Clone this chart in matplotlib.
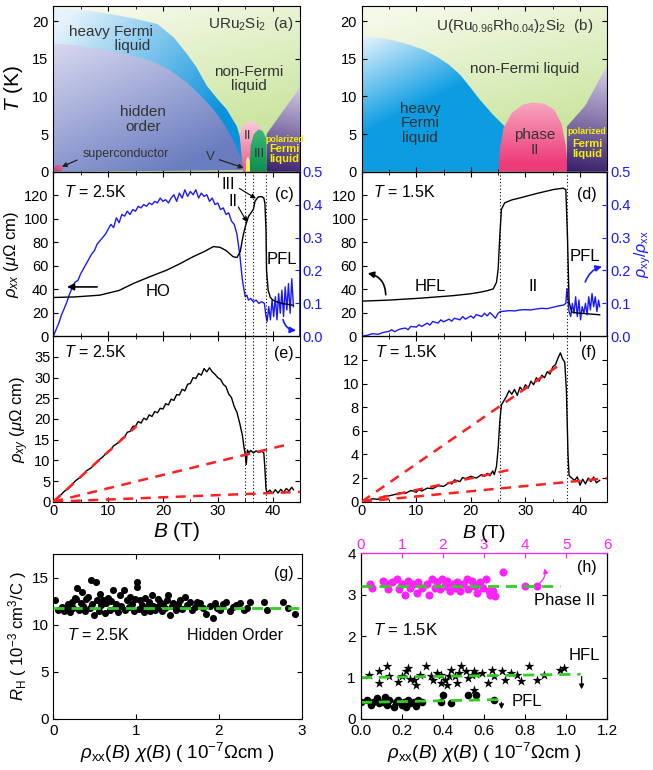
import numpy as np
import matplotlib
matplotlib.use('Agg')
import matplotlib.pyplot as plt
from matplotlib.patches import Polygon
from matplotlib.colors import to_rgb
from matplotlib.ticker import MultipleLocator

plt.rcParams['font.family'] = ['Liberation Sans', 'DejaVu Sans']
plt.rcParams['mathtext.fontset'] = 'custom'
plt.rcParams['mathtext.rm'] = 'Liberation Sans'
plt.rcParams['mathtext.it'] = 'Liberation Sans:italic'
plt.rcParams['mathtext.bf'] = 'Liberation Sans:bold'
plt.rcParams['xtick.direction'] = 'in'
plt.rcParams['ytick.direction'] = 'in'
plt.rcParams['xtick.labelsize'] = 10.5
plt.rcParams['ytick.labelsize'] = 10.5

# ---------------- phase diagram (a) URu2Si2 ----------------
a_hfl_B = [0, 5, 10, 15, 19, 22, 24.3, 26, 28, 30, 31.6, 33.5, 34.5, 35.3]
a_hfl_T = [21.7, 21.5, 21.0, 20.3, 19.6, 17.8, 15.7, 14.0, 11.4, 9.6, 8.3, 6.0, 3.5, 0.3]
a_ho_B = [0, 4, 8.5, 13, 17.6, 21, 24.3, 27, 29.2, 31, 32.8, 34, 35]
a_ho_T = [17.0, 16.8, 16.3, 15.6, 14.8, 13.6, 11.9, 10.0, 8.3, 6.5, 4.2, 2.2, 0.2]
a_II_B = [34.6, 34.0, 34.5, 35.6, 36.8, 37.8, 38.4, 38.6]
a_II_T = [0, 4.8, 6.1, 6.7, 6.6, 5.9, 4.8, 0]
a_III_B = [35.8, 36.0, 36.6, 37.4, 38.2, 38.8, 39.0]
a_III_T = [0, 3.5, 5.0, 5.6, 5.4, 4.5, 0]
a_V_B = [35.1, 35.2, 35.5, 35.8, 35.9]
a_V_T = [0, 1.6, 2.0, 1.6, 0]
a_pfl_B = [38.9, 38.9, 45, 45]
a_pfl_T = [0, 5.0, 11.2, 0]
a_sc_B = [0, 0.5, 1.3, 1.9, 1.5, 0.6, 0]
a_sc_T = [0.3, 0.9, 0.9, 0.5, 0.1, 0.0, 0.3]

# ---------------- phase diagram (b) U(Ru0.96Rh0.04)2Si2 ----------------
b_hfl_B = [0, 4, 7.6, 11, 13.7, 16, 18, 20, 21.6, 24, 26.5]
b_hfl_T = [18, 17.7, 17.1, 16.3, 15.3, 14.2, 12.9, 11.1, 9.6, 7.6, 5.8]
b_II_B = [25.1, 25.3, 26.0, 27.5, 29.5, 31.4, 33.5, 35.3, 36.6, 37.4, 37.8]
b_II_T = [0, 3.0, 5.8, 7.8, 8.9, 9.2, 9.0, 8.2, 6.4, 3.5, 0]
b_pfl_B = [37.6, 37.6, 41, 45, 45]
b_pfl_T = [0, 6.0, 8.8, 14.2, 0]

# ---------------- (c) rho_xx and rho_xy/rho_xx, T=2.5K ----------------
c_rxx_B = [0, 4, 8.5, 12, 14.6, 17.5, 20.7, 23, 25.5, 27.5, 29.2, 30.4, 31.5, 32.8, 33.5, 34.1,
           34.6, 35.0, 35.6, 36.2, 36.5, 36.8, 37.4, 38.0, 38.4, 38.6, 38.8, 38.9, 39.2, 39.6,
           40.1, 41, 42, 43, 43.8]
c_rxx = [33, 33.5, 35, 39, 44.9, 50.5, 56.3, 61.5, 67.7, 72, 76.3, 75.7, 73, 67.7, 67, 72,
         85, 93, 102, 106, 108, 115, 118.6, 118.8, 117.7, 113, 90, 56, 39, 33,
         30.6, 29, 27.7, 27, 26.3]
c_rat_B = [0, 0.5, 1, 1.5, 2, 2.5, 3, 3.5, 4, 4.5, 5, 5.5, 6, 6.5, 7, 7.5, 8, 8.5, 9, 9.5,
           10, 10.5, 11, 11.5, 12, 12.5, 13, 13.5, 14, 14.5, 15, 15.5, 16, 16.5, 17, 17.5,
           18, 18.5, 19, 19.5, 20, 20.5, 21, 21.5, 22, 22.5, 23, 23.5, 24, 24.5, 25, 25.5,
           26, 26.5, 27, 27.5, 28, 28.5, 29, 29.5, 30, 30.5, 31, 31.5, 32, 32.5, 33, 33.5,
           34, 34.5, 35, 35.3, 35.6, 36, 36.5, 37, 37.5, 38, 38.5, 38.8, 39, 39.3, 39.6,
           39.9, 40.2, 40.5, 40.8, 41.1, 41.4, 41.7, 42, 42.3, 42.6, 42.9, 43.2, 43.5, 43.8]
c_rat = [0.0, 0.02, 0.04, 0.065, 0.085, 0.105, 0.13, 0.15, 0.165, 0.17, 0.19, 0.205, 0.22,
         0.235, 0.25, 0.26, 0.28, 0.29, 0.30, 0.31, 0.325, 0.34, 0.33, 0.36, 0.345, 0.37,
         0.365, 0.38, 0.37, 0.385, 0.38, 0.395, 0.39, 0.40, 0.395, 0.405, 0.40, 0.41, 0.405,
         0.42, 0.41, 0.415, 0.405, 0.42, 0.43, 0.41, 0.435, 0.42, 0.445, 0.425, 0.44, 0.43,
         0.445, 0.42, 0.435, 0.425, 0.43, 0.41, 0.42, 0.40, 0.405, 0.385, 0.39, 0.37, 0.375,
         0.35, 0.34, 0.31, 0.25, 0.17, 0.12, 0.125, 0.11, 0.115, 0.105, 0.11, 0.10, 0.105,
         0.10, 0.06, 0.045, 0.09, 0.05, 0.11, 0.06, 0.12, 0.05, 0.13, 0.07, 0.14, 0.06, 0.15,
         0.08, 0.16, 0.07, 0.175, 0.09]

# ---------------- (d) rho_xx and rho_xy/rho_xx, T=1.5K ----------------
d_rxx_B = [0, 5, 10.7, 16.8, 20, 21.7, 23, 24.1, 24.7, 25.0, 25.3, 25.6, 26.2, 27.5, 29, 32,
           35.1, 36.9, 37.4, 37.7, 38.0, 38.5, 39.5, 41.2, 43.6]
d_rxx = [29.9, 30.8, 32.4, 34.6, 36.2, 37.5, 38.8, 40.3, 45.9, 57, 85, 108, 113.5, 116, 117.7,
         121.4, 124.8, 126, 124.8, 85, 29, 20.6, 19.8, 19.2, 18.3]
d_rat_B = [0, 1, 2, 3, 4, 5, 5.5, 6, 7, 8, 8.5, 9, 10, 10.5, 11, 12, 12.5, 13, 14, 14.5, 15,
           16, 16.5, 17, 18, 18.5, 19, 20, 20.5, 21, 22, 22.5, 23, 23.5, 24, 24.5, 25, 25.4,
           26, 27, 28, 29, 30, 31, 32, 33, 34, 35, 36, 37, 37.4, 37.6, 37.8, 38.0, 38.3, 38.6,
           38.9, 39.2, 39.5, 39.8, 40.1, 40.4, 40.7, 41.0, 41.3, 41.6, 41.9, 42.2, 42.5, 42.8,
           43.1, 43.4, 43.6]
d_rat = [0.0, 0.003, 0.008, 0.006, 0.012, 0.015, 0.02, 0.014, 0.022, 0.025, 0.02, 0.03, 0.028,
         0.035, 0.03, 0.04, 0.034, 0.045, 0.04, 0.05, 0.044, 0.052, 0.046, 0.055, 0.05, 0.06,
         0.052, 0.062, 0.055, 0.066, 0.06, 0.07, 0.062, 0.072, 0.064, 0.055, 0.07, 0.075,
         0.076, 0.078, 0.077, 0.08, 0.081, 0.08, 0.083, 0.085, 0.084, 0.088, 0.092, 0.095,
         0.10, 0.145, 0.11, 0.075, 0.06, 0.10, 0.07, 0.12, 0.06, 0.11, 0.05, 0.09, 0.07, 0.10,
         0.065, 0.12, 0.08, 0.13, 0.09, 0.12, 0.075, 0.11, 0.09]

# ---------------- (e) rho_xy, T=2.5K ----------------
e_B = [0, 1, 2, 3, 4, 5, 6, 7, 8, 9, 10, 10.5, 11, 12, 12.5, 13, 13.5, 14, 14.5, 15, 15.5, 16,
       16.5, 17, 17.5, 18, 18.5, 19, 19.5, 20, 20.5, 21, 21.5, 22, 22.5, 23, 23.5, 24, 24.5,
       25, 25.5, 26, 26.5, 27, 27.5, 28, 28.5, 29, 29.5, 30, 30.5, 31, 31.5, 32, 32.5, 33,
       33.5, 34, 34.5, 34.8, 35.0, 35.2, 35.4, 35.7, 36, 36.5, 37, 37.5, 38, 38.4, 38.6, 38.8,
       39, 39.5, 40, 40.5, 41, 41.5, 42, 42.5, 43, 43.5, 43.8]
e_rxy = [0, 1.1, 2.5, 3.5, 5.0, 6.0, 7.4, 8.3, 9.8, 10.8, 12.2, 12.6, 13.5, 14.4, 15.3, 15.6,
         16.8, 17.0, 18.2, 18.3, 19.4, 19.0, 20.2, 19.8, 21.0, 20.6, 21.8, 21.5, 22.6, 22.4,
         23.7, 23.4, 24.8, 24.5, 25.9, 25.8, 27.2, 26.8, 28.4, 28.6, 30.0, 29.8, 31.0, 30.6,
         32.2, 31.4, 32.4, 31.4, 30.8, 30.0, 29.6, 28.4, 27.8, 26.0, 25.2, 23.0, 21.6, 19.0,
         16.0, 13.0, 11.5, 9.0, 12.5, 11.8, 12.4, 11.8, 12.3, 11.9, 12.2, 11.8, 8.0, 3.0, 2.2,
         2.8, 2.0, 2.9, 2.1, 3.0, 2.2, 3.2, 2.6, 3.5, 2.9]
e_fit_end_B = [15.2, 42.3, 45.3]
e_fit_end_rxy = [18.3, 13.7, 2.4]

# ---------------- (f) rho_xy, T=1.5K ----------------
f_B = [0, 1, 2, 3, 4, 5, 6, 7, 8, 9, 10, 10.5, 11, 12, 13, 14, 15, 16, 16.5, 17, 18, 18.5, 19,
       20, 21, 22, 22.5, 23, 23.5, 24, 24.3, 24.7, 25.0, 25.3, 25.6, 26, 26.5, 27, 27.5, 28,
       28.5, 29, 29.5, 30, 30.5, 31, 31.5, 32, 32.5, 33, 33.5, 34, 34.5, 35, 35.5, 36, 36.4,
       36.8, 37.2, 37.5, 37.8, 38.0, 38.5, 39, 39.5, 40, 40.5, 41, 41.5, 42, 42.5, 43, 43.6]
f_rxy = [0, 0.1, 0.25, 0.2, 0.45, 0.5, 0.6, 0.75, 0.7, 0.95, 0.8, 1.05, 0.9, 1.15, 1.1, 1.35,
         1.3, 1.6, 1.5, 1.85, 1.7, 2.05, 1.95, 2.15, 2.0, 2.3, 2.15, 2.4, 2.2, 2.6, 2.3, 3.0,
         4.5, 6.8, 8.2, 8.5, 8.9, 9.4, 9.1, 9.5, 9.0, 9.7, 9.4, 9.9, 9.6, 10.2, 9.9, 10.5,
         10.2, 10.7, 10.5, 11.0, 10.8, 11.4, 11.6, 12.2, 12.6, 12.1, 11.8, 9.5, 4.0, 2.2, 2.0,
         1.8, 2.1, 1.4, 1.9, 1.5, 2.0, 1.7, 2.1, 1.6, 1.8]
f_fit_end_B = [36, 27.2, 45.2]
f_fit_end_rxy = [11.5, 2.7, 2.0]

# ---------------- (g) R_H vs rho_xx*chi, hidden order ----------------
g_x = [0.02, 0.06, 0.10, 0.13, 0.16, 0.18, 0.20, 0.22, 0.24, 0.26, 0.28, 0.29, 0.31, 0.33,
       0.35, 0.36, 0.38, 0.40, 0.42, 0.44, 0.46, 0.47, 0.49, 0.52, 0.53, 0.55, 0.56, 0.58,
       0.60, 0.62, 0.64, 0.66, 0.68, 0.70, 0.72, 0.74, 0.76, 0.78, 0.80, 0.82, 0.85, 0.87,
       0.89, 0.91, 0.93, 0.95, 0.97, 0.99, 1.01, 1.01, 1.03, 1.05, 1.07, 1.09, 1.11, 1.13,
       1.15, 1.17, 1.19, 1.21, 1.23, 1.25, 1.27, 1.29, 1.31, 1.33, 1.35, 1.37, 1.39, 1.41,
       1.43, 1.45, 1.48, 1.51, 1.53, 1.56, 1.59, 1.62, 1.65, 1.68, 1.71, 1.74, 1.77, 1.81,
       1.85, 1.89, 1.93, 1.95, 1.98, 2.01, 2.05, 2.09, 2.13, 2.17, 2.21, 2.25, 2.30, 2.34,
       2.38, 2.54, 2.58, 2.78, 2.84, 2.92]
g_rh = [12.6, 11.6, 11.9, 11.5, 11.7, 12.2, 11.4, 12.45, 11.8, 12.9, 12.8, 13.9, 11.6, 12.3,
        13.5, 12.0, 11.5, 12.7, 13.0, 11.8, 14.75, 12.2, 11.0, 14.6, 12.6, 11.5, 13.3, 12.1,
        12.6, 11.3, 12.3, 12.9, 11.6, 12.5, 13.7, 11.8, 12.2, 11.4, 13.2, 12.0, 13.7, 11.6,
        12.6, 11.9, 13.0, 12.2, 11.5, 12.8, 14.6, 14.0, 11.7, 12.6, 12.1, 11.4, 12.9, 11.9,
        12.4, 11.5, 13.2, 12.0, 11.6, 11.9, 12.7, 12.45, 11.5, 12.2, 11.8, 12.6, 13.2, 11.0,
        12.0, 12.3, 11.6, 12.2, 12.6, 11.7, 13.0, 12.1, 12.45, 11.6, 11.9, 12.4, 12.3, 11.8,
        11.2, 12.0, 10.7, 12.3, 11.8, 11.6, 12.2, 12.45, 11.5, 11.9, 12.1, 12.3, 11.6, 11.75,
        12.45, 12.45, 11.6, 12.45, 11.75, 11.2]
g_fit_x = [0, 3]
g_fit_rh = [11.8, 11.8]

# ---------------- (h) R_H, T=1.5K ----------------
h_II_B = [0.23, 0.27, 0.55, 0.63, 0.67, 0.75, 0.88, 0.92, 1.0, 1.08, 1.16, 1.2, 1.28, 1.36,
          1.4, 1.48, 1.61, 1.67, 1.73, 1.81, 1.85, 1.93, 1.97, 2.05, 2.09, 2.17, 2.21, 2.29,
          2.34, 2.42, 2.5, 2.58, 2.62, 2.7, 2.78, 2.82, 2.9, 2.98, 3.06, 3.11, 3.15, 3.23,
          3.27, 3.47, 4.0, 4.28]
h_II_rh = [3.26, 3.17, 3.34, 3.26, 3.13, 3.3, 3.38, 3.13, 3.26, 3.0, 3.34, 3.17, 3.26, 3.05,
           3.3, 3.17, 3.26, 3.0, 3.38, 3.17, 3.3, 3.13, 3.38, 3.21, 3.34, 3.09, 3.26, 3.17,
           3.3, 3.09, 3.26, 3.38, 3.13, 3.34, 3.21, 3.05, 3.3, 3.17, 3.38, 3.09, 3.0, 3.09,
           2.97, 3.54, 3.21, 3.21]
h_II_fit_B = [0, 4.85]
h_II_fit_rh = [3.2, 3.2]
h_hfl_x = [0.04, 0.09, 0.09, 0.13, 0.14, 0.18, 0.2, 0.22, 0.23, 0.24, 0.26, 0.27, 0.29, 0.32,
           0.34, 0.35, 0.37, 0.39, 0.39, 0.41, 0.42, 0.43, 0.44, 0.46, 0.47, 0.48, 0.49, 0.51,
           0.52, 0.54, 0.55, 0.55, 0.56, 0.59, 0.62, 0.64, 0.65, 0.69, 0.7, 0.73, 0.76, 0.78,
           0.82, 0.86, 0.89, 0.97, 0.99]
h_hfl_rh = [1.07, 1.15, 0.88, 1.27, 1.03, 0.89, 1.03, 1.15, 1.23, 0.96, 0.95, 0.83, 1.07, 1.27,
            1.03, 0.95, 1.11, 1.07, 0.87, 0.95, 0.83, 1.03, 1.19, 1.03, 0.87, 1.11, 1.27, 1.15,
            0.99, 1.07, 1.15, 0.70, 1.09, 1.11, 0.87, 1.19, 1.03, 1.15, 0.95, 1.11, 1.07, 0.91,
            1.27, 0.95, 1.07, 1.19, 1.23]
h_hfl_fit_x = [0, 1.07]
h_hfl_fit_rh = [1.0, 1.08]
h_pfl_x = [0.0, 0.03, 0.05, 0.06, 0.08, 0.09, 0.11, 0.12, 0.13, 0.14, 0.16, 0.17, 0.18, 0.2,
           0.21, 0.22, 0.23, 0.24, 0.26, 0.27, 0.28, 0.3, 0.39, 0.4, 0.44, 0.52, 0.56, 0.65]
h_pfl_rh = [0.42, 0.46, 0.34, 0.42, 0.5, 0.38, 0.42, 0.54, 0.34, 0.46, 0.3, 0.4, 0.46, 0.34,
            0.42, 0.3, 0.46, 0.38, 0.42, 0.32, 0.46, 0.42, 0.40, 0.58, 0.38, 0.57, 0.58, 0.46]
h_pfl_fit_x = [0, 0.68]
h_pfl_fit_rh = [0.4, 0.47]

# ====================================================================
W, H = 653, 770
fig = plt.figure(figsize=(W / 100, H / 100), dpi=100)


def rect(l, r, t, b):
    return [l / W, (H - b) / H, (r - l) / W, (b - t) / H]


BLUE = '#1a1aff'
RED = '#ff2020'
GREEN = '#33cc22'
MAG = '#ff22ff'
TXT = '#333333'

ax_a = fig.add_axes(rect(53.3, 300, 6, 171.7))
ax_b = fig.add_axes(rect(361.7, 607.3, 6, 171.7))
ax_c = fig.add_axes(rect(53.3, 300, 171.7, 336.3))
ax_d = fig.add_axes(rect(361.7, 607.3, 171.7, 336.3))
ax_e = fig.add_axes(rect(53.3, 300, 336.3, 501.7))
ax_f = fig.add_axes(rect(361.7, 607.3, 336.3, 501.7))
ax_g = fig.add_axes(rect(53.3, 301.7, 554.3, 719))
ax_h = fig.add_axes(rect(360.7, 607.3, 553.3, 719))


def grad_fill(ax, xs, ys, c0, c1, p0, p1, z=1, ext=(0, 45, 0, 22)):
    nx, ny = 240, 120
    X, Y = np.meshgrid(np.linspace(0, 1, nx), np.linspace(0, 1, ny))
    d = np.array(p1, float) - np.array(p0, float)
    t = ((X - p0[0]) * d[0] + (Y - p0[1]) * d[1]) / (d @ d)
    t = np.clip(t, 0, 1)[..., None]
    img = np.array(to_rgb(c0)) * (1 - t) + np.array(to_rgb(c1)) * t
    im = ax.imshow(img, extent=ext, origin='lower', aspect='auto', zorder=z,
                   interpolation='bilinear')
    poly = Polygon(np.column_stack([xs, ys]), closed=True, transform=ax.transData,
                   facecolor='none', edgecolor='none')
    ax.add_patch(poly)
    im.set_clip_path(poly)


# ---- (a)
grad_fill(ax_a, [0, 45, 45, 0], [0, 0, 22, 22], '#f4f9e8', '#cbe5a0', (0.3, 1.0), (0.6, 0.2), z=0)
grad_fill(ax_a, a_hfl_B + [0], a_hfl_T + [0], '#e6f3fc', '#0a92dc', (0.0, 0.85), (0.7, 0.4), z=1)
grad_fill(ax_a, a_ho_B + [0], a_ho_T + [0], '#e0def2', '#6a7dc0', (0.0, 0.85), (0.55, 0.05), z=2)
grad_fill(ax_a, a_II_B, a_II_T, '#f05888', '#f9cad8', (0.78, 0.0), (0.78, 0.3), z=3)
grad_fill(ax_a, a_III_B, a_III_T, '#0c8e50', '#3cb878', (0.8, 0.0), (0.85, 0.25), z=4)
grad_fill(ax_a, a_V_B, a_V_T, '#f2ee50', '#f8f6a0', (0.78, 0.0), (0.8, 0.1), z=5)
grad_fill(ax_a, a_pfl_B, a_pfl_T, '#3a206c', '#cfc8e6', (0.86, 0.0), (1.0, 0.5), z=3)
grad_fill(ax_a, a_sc_B, a_sc_T, '#b8407a', '#e080a8', (0, 0), (0.05, 0.05), z=5)
ax_a.set_xlim(0, 45)
ax_a.set_ylim(0, 22)
ax_a.text(10.5, 17.6, 'heavy Fermi\n          liquid', fontsize=11, color=TXT, ha='center',
          va='center', zorder=10, linespacing=1.05)
ax_a.text(35.6, 12.3, 'non-Fermi\nliquid', fontsize=11, color=TXT, ha='center', va='center',
          zorder=10, linespacing=1.05)
ax_a.text(16.4, 6.9, 'hidden\norder', fontsize=11, color=TXT, ha='center', va='center',
          zorder=10, linespacing=1.05)
ax_a.text(5.3, 2.3, 'superconductor', fontsize=9, color=TXT, ha='left', va='center', zorder=10)
ax_a.annotate('', xy=(1.1, 0.5), xytext=(4.8, 1.7),
              arrowprops=dict(arrowstyle='-|>', color='#222222', lw=0.9, mutation_scale=7),
              zorder=10)
ax_a.text(29.4, 2.0, 'V', fontsize=9.5, color=TXT, ha='right', va='center', zorder=10)
ax_a.annotate('', xy=(35.2, 0.4), xytext=(29.8, 1.7),
              arrowprops=dict(arrowstyle='-|>', color='#222222', lw=0.9, mutation_scale=7),
              zorder=10)
ax_a.text(35.5, 4.8, 'II', fontsize=9.5, color=TXT, ha='center', va='center', zorder=10)
ax_a.text(37.5, 2.4, 'III', fontsize=9.5, color=TXT, ha='center', va='center', zorder=10)
ax_a.text(42.2, 4.3, 'polarized', fontsize=6.3, color='#f5f000', fontweight='bold', ha='center',
          va='center', zorder=10)
ax_a.text(42.2, 2.3, 'Fermi\nliquid', fontsize=8, color='#f5f000', fontweight='bold',
          ha='center', va='center', zorder=10, linespacing=1.0)
ax_a.text(43.8, 19.6, r'URu$_2$Si$_2$  (a)', fontsize=11, color=TXT, ha='right', va='center',
          zorder=10)
ax_a.set_ylabel(r'$T$ (K)', fontsize=15, labelpad=5)

# ---- (b)
grad_fill(ax_b, [0, 45, 45, 0], [0, 0, 22, 22], '#f4f9e8', '#cbe5a0', (0.3, 1.0), (0.6, 0.2), z=0)
grad_fill(ax_b, b_hfl_B + [25.2, 0], b_hfl_T + [0, 0], '#f2f8fd', '#0c9ce2', (0.0, 0.85),
          (0.3, 0.45), z=1)
grad_fill(ax_b, b_II_B, b_II_T, '#ee3c7a', '#f8b0c6', (0.7, 0.05), (0.7, 0.45), z=2)
grad_fill(ax_b, b_pfl_B, b_pfl_T, '#3a206c', '#d8d2ec', (0.85, 0.0), (1.0, 0.65), z=2)
ax_b.set_xlim(0, 45)
ax_b.set_ylim(0, 22)
ax_b.text(10.7, 6.4, 'heavy\nFermi\nliquid', fontsize=11, color=TXT, ha='center', va='center',
          zorder=10, linespacing=1.05)
ax_b.text(29.9, 13.6, 'non-Fermi liquid', fontsize=11, color=TXT, ha='center', va='center',
          zorder=10)
ax_b.text(31.7, 3.9, 'phase\nII', fontsize=11, color=TXT, ha='center', va='center', zorder=10,
          linespacing=1.05)
ax_b.text(41.3, 5.4, 'polarized', fontsize=6.3, color='#f5f000', fontweight='bold', ha='center',
          va='center', zorder=10)
ax_b.text(41.3, 3.0, 'Fermi\nliquid', fontsize=8, color='#f5f000', fontweight='bold',
          ha='center', va='center', zorder=10, linespacing=1.0)
ax_b.text(42.5, 19.4, r'U(Ru$_{0.96}$Rh$_{0.04}$)$_2$Si$_2$  (b)', fontsize=11, color=TXT,
          ha='right', va='center', zorder=10)

for ax in (ax_a, ax_b):
    ax.set_yticks([0, 5, 10, 15, 20])
    ax.xaxis.set_major_locator(MultipleLocator(10))
    ax.xaxis.set_minor_locator(MultipleLocator(5))
    ax.tick_params(which='both', top=True, right=True, labelbottom=False)

# ---- (c)
ax_c2 = ax_c.twinx()
ax_c2.plot(c_rat_B, c_rat, color=BLUE, lw=1.0)
ax_c.plot(c_rxx_B, c_rxx, color='k', lw=1.0, zorder=5)
ax_c.set_zorder(ax_c2.get_zorder() + 1)
ax_c.patch.set_visible(False)
for b in (34.9, 36.5, 38.8):
    ax_c.axvline(b, color='k', ls=(0, (1, 2)), lw=0.8)
ax_c.set_ylabel(r'$\rho_{xx}$ ($\mu\Omega$ cm)', fontsize=12, labelpad=2)
ax_c.text(2.0, 123, r'$T$ = 2.5K', fontsize=11.5, va='center')
ax_c.text(43.8, 121, '(c)', fontsize=11.5, ha='right', va='center')
ax_c.text(19.2, 38, 'HO', fontsize=12, ha='center', va='center')
ax_c.text(41.7, 65, 'PFL', fontsize=12, ha='center', va='center')
ax_c.text(32.0, 129, 'III', fontsize=11.5, ha='center', va='center')
ax_c.text(32.8, 115, 'II', fontsize=11.5, ha='center', va='center')
ax_c.annotate('', xy=(37.4, 116), xytext=(33.5, 127),
              arrowprops=dict(arrowstyle='-|>', color='k', lw=0.8, mutation_scale=7))
ax_c.annotate('', xy=(35.6, 95), xytext=(33.5, 112),
              arrowprops=dict(arrowstyle='-|>', color='k', lw=0.8, mutation_scale=7))
ax_c.annotate('', xy=(2.0, 42), xytext=(8.5, 42),
              arrowprops=dict(arrowstyle='-|>', color='k', lw=1.2, mutation_scale=10))
ax_c.annotate('', xy=(44.8, 5), xytext=(41.8, 16.5),
              arrowprops=dict(arrowstyle='-|>', color=BLUE, lw=1.2, mutation_scale=9,
                              connectionstyle='arc3,rad=0.45'), zorder=6)

# ---- (d)
ax_d2 = ax_d.twinx()
ax_d2.plot(d_rat_B, d_rat, color=BLUE, lw=1.0)
ax_d.plot(d_rxx_B, d_rxx, color='k', lw=1.0, zorder=5)
ax_d.set_zorder(ax_d2.get_zorder() + 1)
ax_d.patch.set_visible(False)
for b in (25.3, 37.6):
    ax_d.axvline(b, color='k', ls=(0, (1, 2)), lw=0.8)
ax_d.text(2.0, 123, r'$T$ = 1.5K', fontsize=11.5, va='center')
ax_d.text(43.0, 121, '(d)', fontsize=11.5, ha='right', va='center')
ax_d.text(12.5, 42, 'HFL', fontsize=12, ha='center', va='center')
ax_d.text(31.5, 42, 'II', fontsize=12, ha='center', va='center')
ax_d.text(40.8, 68, 'PFL', fontsize=12, ha='center', va='center')
ax_d.annotate('', xy=(0.6, 54), xytext=(4.4, 33),
              arrowprops=dict(arrowstyle='-|>', color='k', lw=1.2, mutation_scale=9,
                              connectionstyle='arc3,rad=0.45'))
ax_d.annotate('', xy=(44.5, 60), xytext=(40.8, 44),
              arrowprops=dict(arrowstyle='-|>', color=BLUE, lw=1.2, mutation_scale=9,
                              connectionstyle='arc3,rad=-0.3'), zorder=6)
ax_d2.set_ylabel(r'$\rho_{\rm xy}/\rho_{\rm xx}$', fontsize=11.5, color=BLUE, labelpad=1)

for ax, ax2, sc in ((ax_c, ax_c2, BLUE), (ax_d, ax_d2, '#7a7aff')):
    ax.set_xlim(0, 45)
    ax.set_ylim(0, 140)
    ax.set_yticks([0, 20, 40, 60, 80, 100, 120])
    ax.xaxis.set_major_locator(MultipleLocator(10))
    ax.xaxis.set_minor_locator(MultipleLocator(5))
    ax.tick_params(which='both', top=True, labelbottom=False)
    ax2.set_ylim(0, 0.5)
    ax2.set_yticks([0, 0.1, 0.2, 0.3, 0.4, 0.5])
    ax2.set_yticklabels(['0.0', '0.1', '0.2', '0.3', '0.4', '0.5'])
    ax2.tick_params(axis='y', colors=BLUE, labelsize=10.5, pad=2)
    ax2.spines['right'].set_color(sc)
    ax2.spines['right'].set_linewidth(1.3)

# ---- (e)
ax_e.plot(e_B, e_rxy, color='k', lw=1.0, zorder=4)
for xb, yb in zip(e_fit_end_B, e_fit_end_rxy):
    ax_e.plot([0, xb], [0, yb], color=RED, lw=1.8, ls=(0, (4, 3)), zorder=5)
for b in (34.9, 36.5, 38.8):
    ax_e.axvline(b, color='k', ls=(0, (1, 2)), lw=0.8)
ax_e.set_ylim(0, 40)
ax_e.set_yticks([0, 5, 10, 15, 20, 25, 30, 35])
ax_e.set_ylabel(r'$\rho_{xy}$ ($\mu\Omega$ cm)', fontsize=12, labelpad=2)
ax_e.text(2.0, 36.2, r'$T$ = 2.5K', fontsize=11.5, va='center')
ax_e.text(43.8, 35.8, '(e)', fontsize=11.5, ha='right', va='center')
ax_e.set_xlabel(r'$B$ (T)', fontsize=15, labelpad=1)

# ---- (f)
ax_f.plot(f_B, f_rxy, color='k', lw=1.0, zorder=4)
for xb, yb in zip(f_fit_end_B, f_fit_end_rxy):
    ax_f.plot([0, xb], [0, yb], color=RED, lw=1.8, ls=(0, (4, 3)), zorder=5)
for b in (25.3, 37.6):
    ax_f.axvline(b, color='k', ls=(0, (1, 2)), lw=0.8)
ax_f.set_ylim(0, 14)
ax_f.set_yticks([0, 2, 4, 6, 8, 10, 12])
ax_f.text(2.5, 12.7, r'$T$ = 1.5K', fontsize=11.5, va='center')
ax_f.text(43.0, 12.6, '(f)', fontsize=11.5, ha='right', va='center')

for ax in (ax_e, ax_f):
    ax.set_xlim(0, 45)
    ax.xaxis.set_major_locator(MultipleLocator(10))
    ax.xaxis.set_minor_locator(MultipleLocator(5))
    ax.tick_params(which='both', top=True, right=True, pad=2)

# ---- (g)
ax_g.scatter(g_x, g_rh, s=26, color='k', zorder=3, linewidths=0)
ax_g.plot(g_fit_x, g_fit_rh, color=GREEN, lw=2.0, ls=(0, (4, 2.5)), zorder=4)
ax_g.set_xlim(0, 3)
ax_g.set_ylim(0, 17.5)
ax_g.set_xticks([0, 1, 2, 3])
ax_g.set_yticks([0, 5, 10, 15])
ax_g.tick_params(top=True, right=True, labelsize=11)
ax_g.text(0.17, 8.9, r'$T$ = 2.5K', fontsize=11.5, va='center')
ax_g.text(2.2, 8.9, 'Hidden Order', fontsize=11.5, ha='center', va='center')
ax_g.text(2.9, 15.5, '(g)', fontsize=11.5, ha='right', va='center')
ax_g.set_ylabel(r'$R_{\rm H}$ ( 10$^{-3}$ cm$^3$/C )', fontsize=12, labelpad=2)
ax_g.set_xlabel(r'$\rho_{\rm xx}(B)$ $\chi(B)$ ( 10$^{-7}\Omega$cm )', fontsize=13.5, labelpad=2)

# ---- (h)
ax_ht = ax_h.twiny()
ax_h.scatter(h_hfl_x, h_hfl_rh, s=55, marker='*', color='k', zorder=3, linewidths=0)
ax_h.scatter(h_pfl_x, h_pfl_rh, s=30, color='k', zorder=3, linewidths=0)
ax_h.plot(h_hfl_fit_x, h_hfl_fit_rh, color=GREEN, lw=2.0, ls=(0, (4, 2.5)), zorder=4)
ax_h.plot(h_pfl_fit_x, h_pfl_fit_rh, color=GREEN, lw=2.0, ls=(0, (4, 2.5)), zorder=4)
ax_h.annotate('', xy=(1.075, 0.65), xytext=(1.075, 1.09),
              arrowprops=dict(arrowstyle='-|>', color='k', lw=0.9, mutation_scale=7))
ax_h.annotate('', xy=(0.685, 0.17), xytext=(0.685, 0.47),
              arrowprops=dict(arrowstyle='-|>', color='k', lw=0.9, mutation_scale=7))
ax_ht.scatter(h_II_B, h_II_rh, s=34, color=MAG, zorder=3, linewidths=0)
ax_ht.plot(h_II_fit_B, h_II_fit_rh, color=GREEN, lw=2.0, ls=(0, (4, 2.5)), zorder=4)
ax_ht.annotate('', xy=(4.45, 3.7), xytext=(4.3, 3.24),
               arrowprops=dict(arrowstyle='-|>', color=MAG, lw=0.9, mutation_scale=7,
                               connectionstyle='arc3,rad=0.4'))
ax_h.set_xlim(0, 1.2)
ax_h.set_ylim(0, 4)
ax_h.set_xticks([0, 0.2, 0.4, 0.6, 0.8, 1.0, 1.2])
ax_h.set_xticklabels(['0.0', '0.2', '0.4', '0.6', '0.8', '1.0', '1.2'])
ax_h.set_yticks([0, 1, 2, 3, 4])
ax_h.tick_params(right=True, labelsize=11)
ax_ht.set_xlim(0, 6)
ax_ht.set_xticks([0, 1, 2, 3, 4, 5, 6])
ax_ht.tick_params(axis='x', colors=MAG, labelsize=11, pad=1)
ax_ht.spines['top'].set_color(MAG)
ax_ht.set_xlabel(r'$B$ (T)', fontsize=14, labelpad=0, color='k')
ax_h.text(0.99, 2.85, 'Phase II', fontsize=12, ha='center', va='center')
ax_h.text(1.09, 1.53, 'HFL', fontsize=12, ha='center', va='center')
ax_h.text(0.81, 0.42, 'PFL', fontsize=12, ha='center', va='center')
ax_h.text(0.06, 2.16, r'$T$ = 1.5K', fontsize=12, va='center')
ax_h.text(1.15, 3.66, '(h)', fontsize=11.5, ha='right', va='center')
ax_h.set_xlabel(r'$\rho_{\rm xx}(B)$ $\chi(B)$ ( 10$^{-7}\Omega$cm )', fontsize=13.5, labelpad=2)

fig.savefig('out.png', dpi=100)
